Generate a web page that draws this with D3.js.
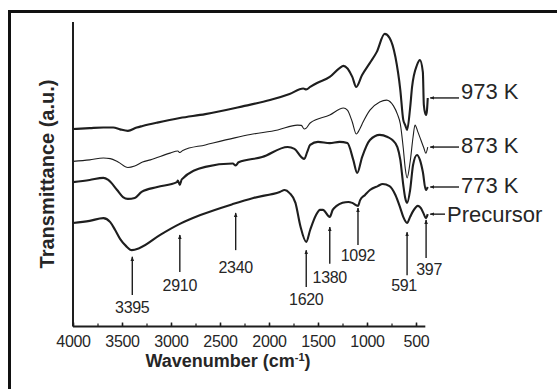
<!DOCTYPE html>
<html>
<head>
<meta charset="utf-8">
<script src="https://cdn.jsdelivr.net/npm/d3@7"></script>
<style>
  html, body { margin: 0; padding: 0; background: #fff; }
  svg { display: block; }
  text { font-family: "Liberation Sans", Arial, Helvetica, sans-serif; fill: #262626; }
</style>
</head>
<body>
<svg id="chart" width="557" height="389"></svg>
<script>
// FTIR spectra: transmittance (a.u.) against wavenumber (cm-1)

// 973 K
const wn973 = [4000,3830,3690,3590,3520,3440,3350,3290,3140,2910,2650,2250,1990,1790,1650,1620,1580,1510,1380,1280,1240,1150,1110,1050,970,900,820,770,710,660,630,610,591,560,540,490,460,430,420,400,390,380];
const t973  = [64.9,65.2,65.4,65.4,64.8,64.3,65.4,65.9,67.0,68.5,69.8,72.5,74.4,76.4,78.2,77.9,78.7,80.0,82.0,84.9,85.6,82.0,78.7,82.6,86.6,90.2,96.1,94.8,88.5,77.7,67.9,66.2,64.6,71.8,78.7,85.9,87.5,83.6,72.8,69.5,70.5,75.1];

// 873 K
const wn873 = [4000,3830,3690,3620,3540,3440,3370,3290,3210,3010,2930,2910,2880,2650,2350,2190,1910,1710,1670,1640,1620,1580,1380,1240,1200,1150,1110,1070,1040,970,870,800,730,690,660,630,610,591,560,530,510,480,450,420,400,380];
const t873  = [54.3,54.8,55.4,55.2,54.1,52.3,52.8,54.1,54.8,57.0,57.7,57.2,57.9,59.7,62.0,63.1,64.6,66.2,66.1,64.9,65.2,66.9,69.5,71.8,71.1,67.2,63.3,65.2,67.2,71.1,73.8,74.4,72.5,69.8,66.6,58.7,52.1,48.9,54.1,62.3,66.2,63.9,61.3,58.7,57.0,59.0];

// 773 K
const wn773 = [4000,3830,3690,3640,3550,3490,3440,3370,3300,3140,2940,2930,2910,2890,2650,2370,2340,2310,2070,1810,1740,1670,1640,1610,1580,1500,1380,1280,1200,1140,1100,1050,970,870,790,740,690,660,630,610,591,560,530,490,460,430,400,380];
const t773  = [47.5,48.2,48.9,48.2,44.9,42.6,42.0,42.3,44.3,45.9,47.5,48.0,46.6,48.4,52.5,53.6,53.0,54.0,55.7,59.0,58.4,55.7,55.1,57.4,59.7,60.7,60.3,60.7,60.3,54.8,50.5,55.7,61.3,63.0,62.3,61.3,59.0,54.8,46.6,42.3,40.7,44.9,53.1,56.4,54.8,50.8,44.9,45.9];

// Precursor
const wnPre = [4000,3830,3690,3620,3570,3520,3460,3400,3320,3110,2910,2700,2370,2160,1890,1840,1790,1730,1680,1620,1580,1520,1480,1450,1380,1350,1310,1250,1190,1150,1092,1070,1020,970,890,840,770,710,660,630,591,560,530,480,450,420,400,380];
const tPre  = [34.1,34.8,35.7,34.4,31.8,28.9,26.6,25.2,25.9,30.2,33.8,36.7,40.3,42.3,44.3,44.9,43.9,40.7,33.1,27.9,31.8,36.7,38.4,38.4,36.1,38.4,39.7,40.7,41.0,40.7,39.7,41.6,43.3,44.9,46.2,46.9,46.2,43.3,39.0,36.1,34.1,36.1,38.0,39.7,39.0,37.0,35.7,37.0];

const seriesNames = ["973 K", "873 K", "773 K", "Precursor"];

// marked bands, with arrow extents and label baselines (a.u.)
const bandWn     = [3395, 2910, 2340, 1620, 1380, 1092, 591, 397];
const bandLabels = ["3395", "2910", "2340", "1620", "1380", "1092", "591", "397"];
const arrowTop   = [23.0, 30.2, 37.4, 25.2, 32.8, 39.0, 31.1, 35.1];
const arrowBase  = [10.5, 18.0, 25.2, 13.1, 20.7, 26.9, 17.0, 22.6];
const labelBase  = [4.6, 11.8, 17.7, 7.2, 14.4, 21.6, 11.8, 17.0];

const xTicks = [4000, 3500, 3000, 2500, 2000, 1500, 1000, 500];
const xMinorTicks = d3.range(4000, 499, -250);

// ---- layout ----
const svg = d3.select("#chart");
const plot = { left: 73, top: 22, bottom: 326.5 };

const x = d3.scaleLinear().domain([4000, 380]).range([plot.left, plot.left + 3620 * 0.098]);
const y = d3.scaleLinear().domain([0, 100]).range([327, 22]);

const series = [
  { name: seriesNames[0], wn: wn973, t: t973, width: 2.1, dy: 1.5 },
  { name: seriesNames[1], wn: wn873, t: t873, width: 1.1, dy: 5.5 },
  { name: seriesNames[2], wn: wn773, t: t773, width: 2.1, dy: 5.5 },
  { name: seriesNames[3], wn: wnPre, t: tPre, width: 2.1, dy: 8 }
];

const ink = "#1e1e1e";

// outer frame (open at right and bottom edges)
svg.append("path")
  .attr("d", `M9.5,389 L9.5,11.5 L557,11.5`)
  .attr("fill", "none").attr("stroke", "#111").attr("stroke-width", 3);

const defs = svg.append("defs");
defs.append("marker")
  .attr("id", "head").attr("viewBox", "0 0 10 10")
  .attr("refX", 9).attr("refY", 5)
  .attr("markerWidth", 4.5).attr("markerHeight", 4.5)
  .attr("markerUnits", "userSpaceOnUse")
  .attr("orient", "auto")
  .append("path").attr("d", "M0,1 L10,5 L0,9 Z").attr("fill", ink);

// y axis line (no ticks)
svg.append("line")
  .attr("x1", plot.left).attr("x2", plot.left)
  .attr("y1", plot.top).attr("y2", plot.bottom)
  .attr("stroke", ink).attr("stroke-width", 2);

// x axis with inward ticks
const xAxis = svg.append("g")
  .attr("transform", `translate(0,${plot.bottom})`)
  .call(d3.axisBottom(x).tickValues(xTicks).tickFormat(d3.format("d")).tickSize(-4).tickPadding(9));
xAxis.select(".domain").remove();
xAxis.selectAll(".tick line").attr("stroke", ink).attr("stroke-width", 1.5);
xAxis.selectAll(".tick text")
  .attr("font-size", 16).attr("fill", "#262626")
  .attr("letter-spacing", "-0.3")
  .attr("font-family", '"Liberation Sans", Arial, sans-serif');

const minor = svg.append("g")
  .attr("transform", `translate(0,${plot.bottom})`)
  .call(d3.axisBottom(x).tickValues(xMinorTicks).tickFormat("").tickSize(-3));
minor.select(".domain").remove();
minor.selectAll(".tick line").attr("stroke", ink).attr("stroke-width", 1.2);

svg.append("line")
  .attr("x1", x(4000)).attr("x2", x(405))
  .attr("y1", plot.bottom).attr("y2", plot.bottom)
  .attr("stroke", ink).attr("stroke-width", 2);

// axis titles
svg.append("text")
  .attr("x", 228).attr("y", 367)
  .attr("text-anchor", "middle")
  .attr("font-size", 18).attr("font-weight", "bold")
  .html('Wavenumber (cm<tspan baseline-shift="super" font-size="11">-1</tspan>)');

svg.append("text")
  .attr("transform", "translate(54,174) rotate(-90)")
  .attr("text-anchor", "middle")
  .attr("font-size", 20).attr("font-weight", "bold")
  .text("Transmittance (a.u.)");

// spectra
const line = d3.line()
  .x(d => x(d[0]))
  .y(d => y(d[1]))
  .curve(d3.curveMonotoneX);

series.forEach(s => {
  const pts = s.wn.map((w, i) => [w, s.t[i]]);
  svg.append("path")
    .datum(pts)
    .attr("d", line)
    .attr("fill", "none")
    .attr("stroke", ink)
    .attr("stroke-width", s.width)
    .attr("stroke-linejoin", "round");
});

// series labels with left-pointing leaders at each trace's end
series.forEach(s => {
  const endWn = s.wn[s.wn.length - 1];
  const endT = s.t[s.t.length - 1];
  const x0 = x(endWn) + 2.5;
  const textX = s.name === "Precursor" ? 447 : 461;
  svg.append("line")
    .attr("x1", textX - 2).attr("x2", x0)
    .attr("y1", y(endT)).attr("y2", y(endT))
    .attr("stroke", ink).attr("stroke-width", 1.4)
    .attr("marker-end", "url(#head)");
  svg.append("text")
    .attr("x", textX).attr("y", y(endT) + s.dy)
    .attr("font-size", 22)
    .text(s.name);
});

// band markers
bandWn.forEach((w, i) => {
  svg.append("line")
    .attr("x1", x(w)).attr("x2", x(w))
    .attr("y1", y(arrowBase[i])).attr("y2", y(arrowTop[i]))
    .attr("stroke", ink).attr("stroke-width", 1.4)
    .attr("marker-end", "url(#head)");
  svg.append("text")
    .attr("x", x(w) + (bandLabels[i] === "591" ? -3 : bandLabels[i] === "397" ? 3 : 0))
    .attr("y", y(labelBase[i]))
    .attr("text-anchor", "middle")
    .attr("font-size", 16)
    .attr("letter-spacing", "-0.3")
    .text(bandLabels[i]);
});
</script>
</body>
</html>
